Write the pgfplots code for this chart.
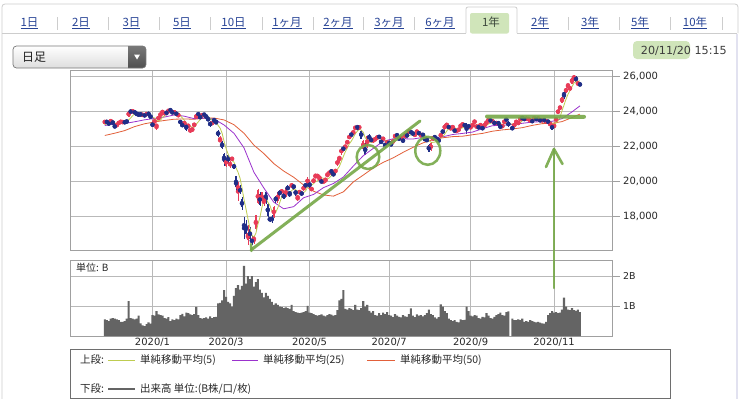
\documentclass[border=0pt]{standalone}
\usepackage{fontspec}
\setmainfont{DejaVu Sans}
\newfontfamily\jp{Noto Sans CJK JP}
\usepackage{pgfplots}
\pgfplotsset{compat=1.18}
\usepackage{pgfplotstable}
\definecolor{upc}{RGB}{232,60,88}
\definecolor{dnc}{RGB}{32,46,135}
\definecolor{maA}{RGB}{190,204,80}
\definecolor{maB}{RGB}{155,50,205}
\definecolor{maC}{RGB}{226,96,58}
\definecolor{volc}{RGB}{100,100,100}
\definecolor{gridc}{RGB}{185,185,185}
\definecolor{framec}{RGB}{160,160,160}
\definecolor{labc}{RGB}{40,40,40}
\definecolor{linkc}{RGB}{40,68,150}
\definecolor{hl}{RGB}{208,229,186}
\definecolor{ann}{RGB}{118,168,72}
\definecolor{tabline}{RGB}{205,205,205}

\pgfplotstableread{
i O H L C V
5 23400 23460 23350 23438 0.58
6 23420 23470 23370 23409 0.55
7 23350 23390 23260 23293 0.52
8 23380 23560 23370 23529 0.60
9 23400 23450 23290 23379 0.62
10 23200 23230 23080 23135 0.60
11 23170 23320 23130 23300 0.58
12 23350 23420 23300 23354 0.55
13 23420 23460 23380 23430 0.50
14 23390 23450 23370 23410 0.50
15 23400 23440 23350 23391 0.52
16 23450 23480 23400 23424 0.60
17 23700 24050 23690 24023 1.18
18 24050 24100 23920 23952 0.62
19 23990 24090 23950 24066 0.60
20 24000 24030 23900 23934 0.58
21 23880 23950 23830 23864 0.60
22 23850 23880 23780 23816 0.70
23 23860 23900 23800 23821 0.45
24 23820 23850 23780 23830 0.38
25 23800 23820 23760 23782 0.36
26 23800 23930 23790 23924 0.42
27 23920 23960 23790 23837 0.48
28 23780 23800 23640 23656 0.44
29 23320 23370 23140 23204 0.72
30 23320 23600 23280 23575 0.70
31 23200 23300 22950 23204 0.85
32 23530 23770 23510 23739 0.74
33 23800 23900 23780 23850 0.72
34 23950 24050 23900 24025 0.70
35 23900 23990 23850 23916 0.62
36 23950 23980 23850 23933 0.60
37 24000 24120 23990 24041 0.65
38 24100 24120 24020 24083 0.52
39 24050 24080 23850 23864 0.58
40 23900 24050 23880 24031 0.55
41 23980 24000 23750 23795 0.60
42 23770 23880 23720 23827 0.58
43 23480 23500 23320 23343 0.72
44 23250 23350 23110 23216 0.76
45 23300 23420 23270 23379 0.68
46 23270 23300 22900 22977 0.80
47 23150 23300 23100 23205 0.78
48 22930 23060 22780 22972 0.74
49 22900 23090 22850 23084 0.72
50 23180 23360 23150 23320 0.75
51 23580 23890 23560 23873 0.99
52 23900 23950 23700 23828 0.72
53 23700 23760 23600 23686 0.62
54 23750 23870 23730 23861 0.60
55 23850 23880 23730 23828 0.62
56 23750 23800 23650 23688 0.64
57 23600 23640 23500 23523 0.60
58 23400 23440 23150 23194 0.68
59 23300 23420 23270 23400 0.62
60 23500 23600 23450 23479 0.65
61 23450 23460 23310 23387 0.66
62 22900 22950 22570 22605 1.10
63 22300 22600 22260 22426 1.12
64 22250 22300 21880 21948 1.20
65 21600 21650 20920 21142 1.54
66 20900 21380 20850 21344 1.32
67 21500 21550 21000 21082 1.15
68 20900 21200 20800 21100 1.10
69 21300 21400 21200 21329 1.00
70 21000 21050 20700 20749 1.35
71 20300 20350 19470 19698 1.60
72 19500 19980 18900 19867 1.70
73 19600 19800 19300 19416 1.55
74 19000 19100 18400 18559 1.68
75 17600 18000 16700 17431 2.33
76 17600 17800 17000 17002 1.75
77 16700 17500 16400 17011 2.00
78 17300 17400 16650 16726 1.90
79 16700 16900 16358 16552 2.00
80 16600 16900 16450 16887 1.65
81 17300 18100 17200 18092 1.80
82 18800 19560 18750 19546 1.90
83 19300 19400 18600 18664 1.55
84 18900 19400 18800 19389 1.45
85 18800 19100 18600 19084 1.30
86 19400 19400 18700 18917 1.45
87 18700 18800 18000 18065 1.35
88 17900 18000 17700 17819 1.25
89 17900 18100 17650 17820 1.15
90 18000 18600 17950 18576 1.05
91 19100 19200 18800 18950 1.10
92 18900 19400 18800 19353 1.05
93 19400 19500 19200 19345 1.00
94 19400 19600 19300 19498 0.98
95 19300 19350 19000 19043 0.95
96 19150 19650 19100 19638 0.97
97 19700 19800 19500 19550 0.95
98 19400 19450 19100 19290 0.92
99 19700 19900 19650 19897 1.05
100 19800 19850 19550 19669 0.85
101 19500 19550 19200 19280 0.82
102 19100 19200 18900 19137 0.80
103 19400 19500 19300 19429 0.78
104 19400 19450 19200 19262 0.80
105 19500 19800 19450 19783 0.82
106 19800 19900 19700 19771 0.85
107 19900 20250 19850 20193 1.02
108 20000 20100 19600 19619 0.80
109 19500 19700 19450 19674 0.78
110 19950 20200 19900 20179 0.75
111 20300 20400 20200 20390 0.72
112 20300 20400 20250 20366 0.70
113 20200 20300 20050 20267 0.72
114 20100 20150 19900 19915 0.74
115 20000 20100 19900 20037 0.70
116 20100 20200 19950 20133 0.68
117 20400 20450 20300 20433 0.72
118 20450 20600 20400 20595 0.75
119 20600 20700 20500 20552 0.73
120 20450 20550 20300 20388 0.70
121 20500 20750 20450 20741 0.72
122 20900 21300 20900 21271 0.88
123 21300 21450 21150 21419 1.20
124 21600 21950 21550 21916 1.25
125 21900 22000 21750 21877 1.54
126 21950 22100 21900 22062 0.92
127 22200 22350 22150 22325 0.90
128 22500 22650 22450 22613 0.95
129 22700 22800 22550 22695 0.92
130 22800 22900 22700 22863 0.88
131 23000 23180 22950 23178 1.05
132 23150 23180 22950 23091 0.90
133 23100 23190 23000 23124 0.88
134 22900 22950 22450 22473 0.95
135 21900 22400 21800 22305 1.18
136 22100 22200 21500 21530 1.00
137 22000 22600 21950 22582 1.05
138 22600 22700 22400 22455 0.86
139 22400 22500 22300 22355 0.80
140 22300 22500 22200 22478 0.85
141 22400 22500 22350 22437 0.72
142 22500 22600 22450 22549 0.70
143 22600 22650 22450 22534 0.78
144 22300 22350 22200 22260 0.72
145 22400 22550 22350 22512 0.80
146 22200 22250 21950 21995 0.75
147 22200 22350 22150 22288 0.82
148 22300 22350 22100 22122 0.72
149 22150 22200 22050 22145 0.70
150 22300 22350 22250 22306 0.65
151 22500 22750 22450 22714 0.75
152 22700 22750 22550 22614 0.70
153 22500 22550 22350 22438 0.66
154 22500 22600 22400 22529 0.64
155 22400 22450 22250 22291 0.72
156 22500 22800 22450 22784 0.68
157 22700 22750 22550 22587 0.66
158 22800 22950 22750 22945 0.75
159 22900 22950 22700 22770 0.94
160 22800 22850 22650 22696 0.70
161 22650 22750 22600 22717 0.65
162 22850 22900 22800 22884 0.74
163 22800 22850 22700 22751 0.70
164 22650 22750 22550 22716 0.72
165 22700 22750 22600 22657 0.68
166 22500 22550 22300 22397 0.72
167 22400 22500 22300 22339 0.78
168 22100 22150 21700 21710 0.90
169 21800 22250 21750 22195 0.75
170 22400 22600 22350 22573 0.72
171 22550 22650 22450 22514 0.64
172 22500 22550 22300 22418 0.60
173 22400 22450 22250 22329 0.65
174 22550 22800 22500 22750 1.07
175 22900 22950 22750 22843 1.00
176 23000 23300 22950 23249 0.85
177 23200 23350 23150 23289 0.78
178 23150 23200 23050 23096 0.60
179 23050 23150 22950 23051 0.55
180 23100 23200 23050 23110 0.52
181 22950 23000 22850 22880 0.55
182 22900 23000 22800 22920 0.50
183 22950 23050 22900 22985 0.48
184 23100 23300 23050 23296 0.58
185 23250 23350 23200 23290 0.55
186 23250 23300 23150 23208 0.56
187 23300 23350 22700 22882 1.00
188 23200 23250 23050 23140 0.85
189 23100 23200 23000 23138 0.70
190 23200 23300 23150 23247 0.68
191 23400 23500 23350 23465 0.72
192 23100 23250 23050 23205 0.70
193 23150 23200 23000 23089 0.62
194 23200 23300 23150 23274 0.60
195 23100 23150 22950 23032 0.66
196 23200 23300 23150 23235 0.64
197 23350 23450 23300 23406 0.78
198 23500 23600 23450 23559 0.70
199 23550 23580 23400 23454 0.62
200 23450 23500 23400 23475 0.60
201 23400 23450 23250 23319 0.66
202 23350 23400 23300 23360 0.72
203 23350 23400 23250 23346 0.75
204 23200 23250 23050 23087 0.80
205 23150 23250 23100 23204 0.72
206 23350 23550 23300 23511 0.70
207 23550 23600 23500 23539 0.82
208 23400 23450 23150 23185 0.84
210 23100 23150 22950 23029 0.60
211 23150 23350 23100 23312 0.55
212 23400 23500 23350 23433 0.55
213 23300 23450 23250 23422 0.58
214 23550 23650 23500 23647 0.55
215 23650 23700 23580 23619 0.60
216 23600 23650 23520 23558 0.50
217 23600 23650 23550 23601 0.52
218 23550 23650 23500 23626 0.50
219 23500 23550 23450 23507 0.55
220 23500 23550 23380 23410 0.52
221 23600 23700 23550 23671 0.50
222 23600 23650 23500 23567 0.48
223 23600 23650 23550 23639 0.50
224 23550 23560 23450 23474 0.47
225 23500 23550 23450 23516 0.45
226 23550 23580 23450 23494 0.44
227 23450 23500 23350 23485 0.50
228 23450 23500 23350 23418 0.72
229 23250 23400 23200 23331 0.78
230 23250 23300 22950 22977 0.85
231 23100 23300 23050 23295 0.80
232 23450 23700 23400 23695 0.82
233 23900 24150 23850 24105 0.78
234 24150 24350 24100 24325 0.80
235 24500 24850 24500 24839 0.90
236 25100 25150 24700 24905 1.29
237 25100 25380 25050 25349 1.00
238 25500 25550 25350 25520 0.90
239 25300 25450 25200 25385 0.88
240 25600 25950 25600 25906 0.95
241 25900 26100 25800 26014 0.88
242 26000 26050 25700 25728 0.86
243 25600 25700 25500 25634 0.90
244 25600 25650 25450 25527 0.82
}\candles

\begin{document}
\begin{tikzpicture}
\path[use as bounding box, fill=white] (0,0) rectangle (749bp,-399bp);
\begin{scope}[x=1bp,y=-1bp]
% outer frame
\draw[tabline, line width=0.8bp, rounded corners=3bp] (2,420) -- (2,4) -- (738,4) -- (738,33);
\draw[color={rgb,255:red,226;green,226;blue,240}, line width=1.6bp] (737,34) -- (737,420);
\draw[tabline, line width=0.8bp] (2,33) -- (466,33);
\draw[tabline, line width=0.8bp] (517,33) -- (737,33);
\draw[tabline, line width=0.8bp, fill=white, rounded corners=2bp] (466,33) -- (466,7) -- (517,7) -- (517,33);
\fill[hl, rounded corners=2bp] (470,13) rectangle (509,33.5);
% tabs
\foreach \xx/\tt in {29.5/1日,81/2日,131.5/3日,182/5日,233.5/10日,287/1ヶ月,338/2ヶ月,389/3ヶ月,440/6ヶ月,540/2年,590/3年,640/5年,695/10年}{
  \node[text=linkc, inner sep=0pt, font=\jp\fontsize{11.5}{13}\selectfont] at (\xx,23) {\underline{\tt}};
}
\node[text={rgb,255:red,60;green,72;blue,60}, inner sep=0pt, font=\jp\fontsize{11.5}{13}\selectfont] at (491,22) {1年};
\foreach \xx in {57,108,159,210,262,313,363,414,568,619,670,722}{
  \draw[tabline, line width=0.7bp] (\xx,17) -- (\xx,30);
}
% dropdown
\begin{scope}
\clip[rounded corners=3.5bp] (13,46) rectangle (146,68);
\shade[top color=white, bottom color={rgb,255:red,222;green,222;blue,222}] (13,46) rectangle (146,68);
\shade[top color={rgb,255:red,120;green,120;blue,120}, bottom color={rgb,255:red,80;green,80;blue,80}] (128,46) rectangle (146,68);
\end{scope}
\draw[color={rgb,255:red,120;green,120;blue,120}, line width=0.7bp, rounded corners=3.5bp] (13,46) rectangle (146,68);
\fill[white] (134,54.5) -- (140,54.5) -- (137,59.5) -- cycle;
\node[anchor=west, inner sep=0pt, text={rgb,255:red,30;green,30;blue,30}, font=\jp\fontsize{12}{14}\selectfont] at (22,57) {日足};
% date
\fill[hl, rounded corners=4bp] (633,41) rectangle (690,59);
\node[anchor=east, inner sep=0pt, text={rgb,255:red,60;green,60;blue,60}, font=\fontsize{11.2}{13}\selectfont] at (727,51) {20/11/20 15:15};
\end{scope}

\begin{axis}[
  at={(70.7bp,-70.7bp)}, anchor=north west, scale only axis,
  width=542bp, height=179.3bp,
  xmin=-12.16, xmax=260.5, ymin=16100, ymax=26340,
  axis line style={draw=framec, line width=0.8bp},
  xtick={29,66,108,148,189,231}, xticklabels={,,,,,}, xtick style={draw=none},
  ytick={18000,20000,22000,24000,26000},
  scaled y ticks=false,
  ytick pos=right, yticklabel pos=right,
  tick align=outside, major tick length=7bp,
  ytick style={draw=framec, line width=0.8bp},
  grid=major, grid style={draw=gridc, line width=0.8bp},
  yticklabel style={font=\fontsize{10}{12}\selectfont, text=labc},
  /pgf/number format/.cd, 1000 sep={,}, assume math mode=true,
]
% wicks
\addplot[upc, only marks, mark=none, forget plot,
  error bars/.cd, y dir=both, y explicit, error mark=none,
  error bar style={line width=0.55bp, solid, upc}]
  table[x=i, y expr={\thisrow{C}>=\thisrow{O} ? (\thisrow{H}+\thisrow{L})/2 : nan},
        y error expr={(\thisrow{H}-\thisrow{L})/2}] {\candles};
\addplot[dnc, only marks, mark=none, forget plot,
  error bars/.cd, y dir=both, y explicit, error mark=none,
  error bar style={line width=0.55bp, solid, dnc}]
  table[x=i, y expr={\thisrow{C}<\thisrow{O} ? (\thisrow{H}+\thisrow{L})/2 : nan},
        y error expr={(\thisrow{H}-\thisrow{L})/2}] {\candles};
% bodies
\addplot[upc, only marks, mark=none, forget plot,
  error bars/.cd, y dir=both, y explicit, error mark=none,
  error bar style={line width=1.7bp, solid, upc}]
  table[x=i, y expr={\thisrow{C}>=\thisrow{O} ? (\thisrow{O}+\thisrow{C})/2 : nan},
        y error expr={abs(\thisrow{C}-\thisrow{O})/2+8}] {\candles};
\addplot[dnc, only marks, mark=none, forget plot,
  error bars/.cd, y dir=both, y explicit, error mark=none,
  error bar style={line width=1.7bp, solid, dnc}]
  table[x=i, y expr={\thisrow{C}<\thisrow{O} ? (\thisrow{O}+\thisrow{C})/2 : nan},
        y error expr={abs(\thisrow{C}-\thisrow{O})/2+8}] {\candles};
% MA50
\addplot[maC, line width=0.8bp, mark=none] coordinates {
(5,22641)(10,22771)(15,22919)(20,23147)(25,23309)(30,23413)(35,23498)(40,23571)(45,23583)(50,23568)(55,23625)(60,23635)(65,23528)(70,23252)(75,22769)(80,22089)(85,21610)(90,21035)(95,20608)(100,20257)(105,19813)(110,19457)(115,19246)(120,19176)(125,19421)(130,19988)(135,20377)(140,20781)(145,21102)(150,21359)(155,21673)(160,21960)(165,22215)(170,22397)(175,22510)(180,22575)(185,22599)(190,22683)(195,22759)(200,22884)(205,22959)(210,23012)(215,23086)(220,23216)(225,23316)(230,23335)(235,23433)(240,23662)(244,23860)};
% MA25
\addplot[maB, line width=0.8bp, mark=none] coordinates {
(5,23212)(10,23302)(15,23327)(20,23423)(25,23535)(30,23613)(35,23693)(40,23815)(45,23742)(50,23600)(55,23636)(60,23577)(65,23240)(70,22762)(75,21938)(80,20542)(85,19642)(90,18830)(95,18453)(100,18576)(105,19084)(110,19271)(115,19662)(120,19898)(125,20266)(130,20892)(135,21482)(140,21899)(145,22306)(150,22452)(155,22453)(160,22438)(165,22530)(170,22488)(175,22567)(180,22696)(185,22759)(190,22835)(195,23029)(200,23200)(205,23221)(210,23265)(215,23337)(220,23403)(225,23432)(230,23448)(235,23600)(240,23986)(244,24330)};
% MA5
\addplot[maA, line width=0.8bp, mark=none] coordinates {
(5,23250)(6,23324)(7,23360)(8,23408)(9,23410)(10,23350)(11,23328)(12,23340)(13,23320)(14,23326)(15,23376)(16,23400)(17,23534)(18,23638)(19,23770)(20,23878)(21,23966)(22,23926)(23,23900)(24,23852)(25,23822)(26,23834)(27,23838)(28,23806)(29,23680)(30,23640)(31,23496)(32,23476)(33,23514)(34,23680)(35,23748)(36,23894)(37,23954)(38,24000)(39,23966)(40,23988)(41,23962)(42,23920)(43,23772)(44,23644)(45,23514)(46,23350)(47,23226)(48,23152)(49,23124)(50,23112)(51,23290)(52,23414)(53,23558)(54,23714)(55,23816)(56,23780)(57,23718)(58,23618)(59,23526)(60,23456)(61,23396)(62,23214)(63,23062)(64,22772)(65,22304)(66,21894)(67,21588)(68,21322)(69,21198)(70,21120)(71,20792)(72,20550)(73,20214)(74,19660)(75,18996)(76,18456)(77,17884)(78,17346)(79,16944)(80,16836)(81,17054)(82,17562)(83,17948)(84,18516)(85,18954)(86,19120)(87,18824)(88,18656)(89,18342)(90,18242)(91,18248)(92,18504)(93,18810)(94,19146)(95,19238)(96,19376)(97,19416)(98,19404)(99,19484)(100,19610)(101,19538)(102,19456)(103,19484)(104,19356)(105,19378)(106,19476)(107,19686)(108,19724)(109,19806)(110,19886)(111,20010)(112,20046)(113,20176)(114,20226)(115,20198)(116,20146)(117,20158)(118,20224)(119,20350)(120,20420)(121,20542)(122,20710)(123,20874)(124,21148)(125,21446)(126,21710)(127,21922)(128,22160)(129,22316)(130,22512)(131,22736)(132,22888)(133,22990)(134,22944)(135,22834)(136,22504)(137,22402)(138,22270)(139,22248)(140,22282)(141,22464)(142,22458)(143,22472)(144,22452)(145,22458)(146,22370)(147,22318)(148,22236)(149,22214)(150,22174)(151,22316)(152,22380)(153,22444)(154,22520)(155,22516)(156,22530)(157,22526)(158,22628)(159,22676)(160,22758)(161,22746)(162,22804)(163,22764)(164,22754)(165,22746)(166,22682)(167,22574)(168,22366)(169,22262)(170,22244)(171,22266)(172,22282)(173,22406)(174,22516)(175,22570)(176,22718)(177,22892)(178,23046)(179,23106)(180,23160)(181,23086)(182,23012)(183,22990)(184,23040)(185,23076)(186,23142)(187,23134)(188,23164)(189,23132)(190,23124)(191,23176)(192,23242)(193,23232)(194,23258)(195,23214)(196,23168)(197,23208)(198,23302)(199,23338)(200,23428)(201,23444)(202,23434)(203,23392)(204,23320)(205,23264)(206,23302)(207,23338)(208,23306)(210,23294)(211,23316)(212,23300)(213,23276)(214,23368)(215,23486)(216,23536)(217,23570)(218,23612)(219,23584)(220,23542)(221,23564)(222,23558)(223,23560)(224,23552)(225,23574)(226,23538)(227,23522)(228,23478)(229,23450)(230,23342)(231,23304)(232,23346)(233,23484)(234,23684)(235,24056)(236,24378)(237,24708)(238,24990)(239,25202)(240,25416)(241,25636)(242,25712)(243,25734)(244,25762)};
\end{axis}

\begin{axis}[
  at={(70.7bp,-260bp)}, anchor=north west, scale only axis,
  width=542bp, height=76bp,
  xmin=-12.16, xmax=260.5, ymin=0.033, ymax=2.525,
  axis line style={draw=framec, line width=0.8bp},
  xtick={29,66,108,148,189,231},
  xticklabels={2020/1,2020/3,2020/5,2020/7,2020/9,2020/11},
  xtick style={draw=none},
  ytick={1,2}, yticklabels={1B,2B},
  ytick pos=right, yticklabel pos=right,
  tick align=outside, major tick length=7bp,
  ytick style={draw=framec, line width=0.8bp},
  grid=major, grid style={draw=gridc, line width=0.8bp},
  yticklabel style={font=\fontsize{9.5}{11}\selectfont, text=labc},
  xticklabel style={font=\fontsize{10}{12}\selectfont, text=labc, yshift=8.5bp},
]
\addplot[ybar, bar width=1.06, bar shift=0pt, fill=volc, draw=none] table[x=i, y=V] {\candles};
\end{axis}

\begin{scope}[x=1bp,y=-1bp]
\node[anchor=west, inner sep=0pt, text=labc, font=\jp\fontsize{10}{12}\selectfont] at (76,268) {単位: B};
% legend
\draw[color={rgb,255:red,110;green,110;blue,110}, line width=0.9bp] (70.7,398.5) -- (70.7,349) -- (670,349) -- (670,398.5);
\draw[color={rgb,255:red,110;green,110;blue,110}, line width=0.9bp] (70.7,398) -- (670,398);
\node[anchor=west, inner sep=0pt, text=labc, font=\jp\fontsize{10.5}{12}\selectfont] at (80,360) {上段:};
\draw[maA, line width=0.9bp] (108,360) -- (135,360);
\node[anchor=west, inner sep=0pt, text=labc, font=\jp\fontsize{10.5}{12}\selectfont] at (140,360) {単純移動平均(5)};
\draw[maB, line width=0.9bp] (232,360) -- (258,360);
\node[anchor=west, inner sep=0pt, text=labc, font=\jp\fontsize{10.5}{12}\selectfont] at (263,360) {単純移動平均(25)};
\draw[maC, line width=0.9bp] (367,360) -- (395,360);
\node[anchor=west, inner sep=0pt, text=labc, font=\jp\fontsize{10.5}{12}\selectfont] at (400,360) {単純移動平均(50)};
\node[anchor=west, inner sep=0pt, text=labc, font=\jp\fontsize{10.5}{12}\selectfont] at (80,389) {下段:};
\draw[volc, line width=2.8bp] (108,389) -- (135,389);
\node[anchor=west, inner sep=0pt, text=labc, font=\jp\fontsize{10.5}{12}\selectfont] at (140,389) {出来高 単位:(B株/口/枚)};
% annotations
\begin{scope}[ann, line cap=round, line join=round, opacity=0.9]
\draw[line width=3bp] (251,250) -- (420,121);
\draw[line width=2.5bp] (251,244) -- (251.5,251);
\draw[line width=2.5bp] (368,157) ellipse [x radius=11.3, y radius=12];
\draw[line width=2.5bp] (427.8,150.8) ellipse [x radius=12.5, y radius=14];
\draw[line width=4bp] (487,116.5) -- (584,116.8);
\draw[line width=2.6bp] (554,288) -- (554,149);
\draw[line width=2.6bp] (546,167) -- (554,149) -- (562.5,164);
\end{scope}
\end{scope}
\end{tikzpicture}
\end{document}
